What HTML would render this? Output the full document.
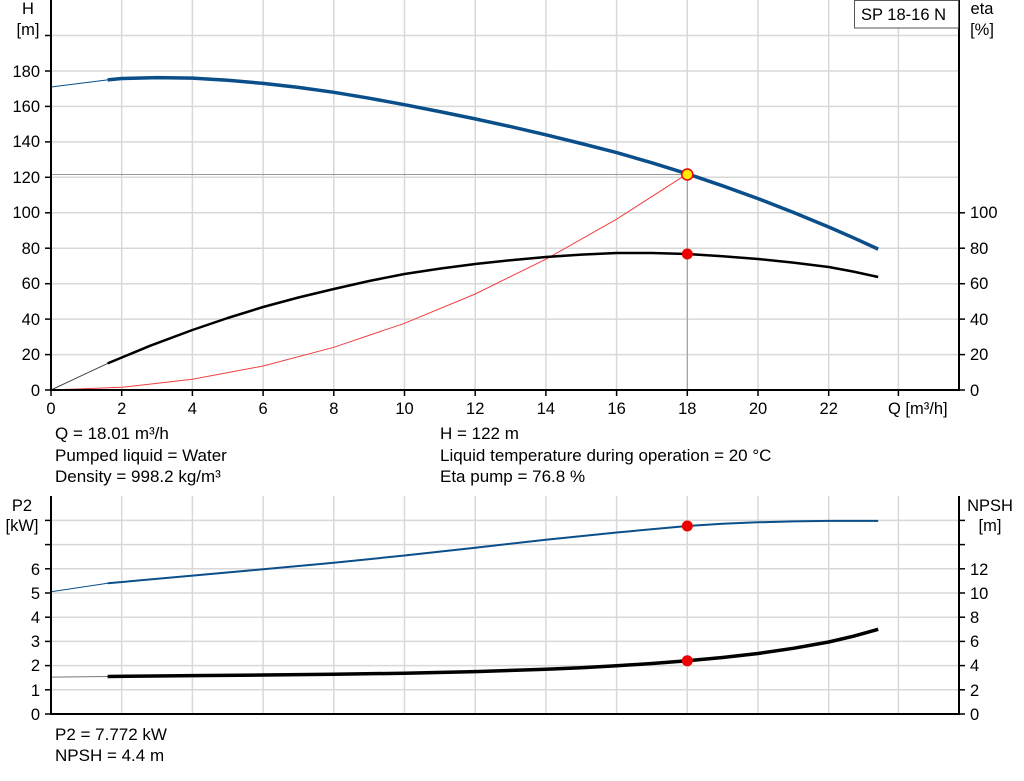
<!DOCTYPE html>
<html><head><style>body{margin:0;background:#fff}svg{display:block;font-family:"Liberation Sans",Arial,sans-serif}</style></head><body>
<svg width="1024" height="781" viewBox="0 0 1024 781" xmlns="http://www.w3.org/2000/svg">
<g stroke="#d8d8d8" stroke-width="1.5">
<line x1="121.7" y1="0" x2="121.7" y2="390"/><line x1="192.4" y1="0" x2="192.4" y2="390"/><line x1="263.1" y1="0" x2="263.1" y2="390"/><line x1="333.8" y1="0" x2="333.8" y2="390"/><line x1="404.5" y1="0" x2="404.5" y2="390"/><line x1="475.2" y1="0" x2="475.2" y2="390"/><line x1="545.9" y1="0" x2="545.9" y2="390"/><line x1="616.6" y1="0" x2="616.6" y2="390"/><line x1="687.3" y1="0" x2="687.3" y2="390"/><line x1="758" y1="0" x2="758" y2="390"/><line x1="828.7" y1="0" x2="828.7" y2="390"/><line x1="898.4" y1="0" x2="898.4" y2="390"/>
<line x1="51" y1="354.6" x2="959" y2="354.6"/><line x1="51" y1="319.1" x2="959" y2="319.1"/><line x1="51" y1="283.7" x2="959" y2="283.7"/><line x1="51" y1="248.2" x2="959" y2="248.2"/><line x1="51" y1="212.8" x2="959" y2="212.8"/><line x1="51" y1="177.3" x2="959" y2="177.3"/><line x1="51" y1="141.9" x2="959" y2="141.9"/><line x1="51" y1="106.4" x2="959" y2="106.4"/><line x1="51" y1="71" x2="959" y2="71"/><line x1="51" y1="35.5" x2="959" y2="35.5"/>
<line x1="121.7" y1="496" x2="121.7" y2="714"/><line x1="192.4" y1="496" x2="192.4" y2="714"/><line x1="263.1" y1="496" x2="263.1" y2="714"/><line x1="333.8" y1="496" x2="333.8" y2="714"/><line x1="404.5" y1="496" x2="404.5" y2="714"/><line x1="475.2" y1="496" x2="475.2" y2="714"/><line x1="545.9" y1="496" x2="545.9" y2="714"/><line x1="616.6" y1="496" x2="616.6" y2="714"/><line x1="687.3" y1="496" x2="687.3" y2="714"/><line x1="758" y1="496" x2="758" y2="714"/><line x1="828.7" y1="496" x2="828.7" y2="714"/><line x1="898.4" y1="496" x2="898.4" y2="714"/>
<line x1="51" y1="689.8" x2="959" y2="689.8"/><line x1="51" y1="665.6" x2="959" y2="665.6"/><line x1="51" y1="641.4" x2="959" y2="641.4"/><line x1="51" y1="617.2" x2="959" y2="617.2"/><line x1="51" y1="593" x2="959" y2="593"/><line x1="51" y1="568.8" x2="959" y2="568.8"/><line x1="51" y1="544.6" x2="959" y2="544.6"/><line x1="51" y1="520.4" x2="959" y2="520.4"/>
</g>
<polyline points="51,174.5 687.3,174.5 687.3,390" fill="none" stroke="#999" stroke-width="1"/>
<polyline points="51,390 121.7,387.3 192.4,379.3 263.1,366 333.8,347.3 404.5,323.3 475.2,294 545.9,259.2 616.6,219.2 687.3,173.8" fill="none" stroke="#f04040" stroke-width="1"/>
<polyline points="51,87 107.6,79.9" fill="none" stroke="#0b4f8a" stroke-width="1"/>
<polyline points="107.6,79.9 121.7,78.5 157,77.6 192.4,78.1 227.7,80.2 263.1,83.4 298.4,87.4 333.8,92.3 369.1,98.2 404.5,104.7 439.8,111.6 475.2,118.9 510.5,126.6 545.9,134.8 581.2,143.5 616.6,152.6 652,162.8 687.3,173.8 722.6,185.8 758,198.6 793.3,212.4 828.7,227 853.5,237.8 878.2,249.1" fill="none" stroke="#0b4f8a" stroke-width="3.5" stroke-linejoin="round"/>
<polyline points="51,390 107.6,363.4" fill="none" stroke="#444" stroke-width="1"/>
<polyline points="107.6,363.4 150,345.8 192.4,330 227.7,318 263.1,307 298.4,297.5 333.8,289 369.1,281 404.5,274 439.8,268.6 475.2,264 510.5,260.2 545.9,257 581.2,254.6 616.6,253 652,253 687.3,254 722.6,256.2 758,259 793.3,262.6 828.7,267 853.5,271.6 878.2,277" fill="none" stroke="#000" stroke-width="2.5" stroke-linejoin="round"/>
<circle cx="687.3" cy="174.5" r="5.5" fill="#ffee00" stroke="#e00" stroke-width="1.5"/>
<circle cx="687.3" cy="254" r="5.5" fill="#e00"/>
<polyline points="51,591.8 107.6,583.3" fill="none" stroke="#0b4f8a" stroke-width="1"/>
<polyline points="107.6,583.3 192.4,575.6 263.1,569.3 333.8,562.8 404.5,555.5 475.2,547.7 545.9,539.8 616.6,532.5 687.3,526 722.6,523.8 758,522.3 793.3,521.4 828.7,520.9 878.2,520.9" fill="none" stroke="#0b4f8a" stroke-width="2" stroke-linejoin="round"/>
<polyline points="51,677.1 107.6,676.5" fill="none" stroke="#777" stroke-width="1"/>
<polyline points="107.6,676.5 192.4,675.6 263.1,675 333.8,674.3 404.5,673.2 475.2,671.6 545.9,669.2 581.2,667.7 616.6,665.8 652,663.5 687.3,660.8 722.6,657.5 758,653.5 793.3,648.3 828.7,642 853.5,636.2 878.2,629.3" fill="none" stroke="#000" stroke-width="3.5" stroke-linejoin="round"/>
<circle cx="687.3" cy="526" r="5.5" fill="#e00"/>
<circle cx="687.3" cy="660.8" r="5.5" fill="#e00"/>
<g stroke="#000" stroke-width="2" fill="none">
<polyline points="51,0 51,390 959,390 959,0"/>
<polyline points="51,496 51,714 959,714 959,496"/>
</g>
<g stroke="#000" stroke-width="1.5">
<line x1="45" y1="390" x2="51" y2="390"/><line x1="45" y1="354.6" x2="51" y2="354.6"/><line x1="45" y1="319.1" x2="51" y2="319.1"/><line x1="45" y1="283.7" x2="51" y2="283.7"/><line x1="45" y1="248.2" x2="51" y2="248.2"/><line x1="45" y1="212.8" x2="51" y2="212.8"/><line x1="45" y1="177.3" x2="51" y2="177.3"/><line x1="45" y1="141.9" x2="51" y2="141.9"/><line x1="45" y1="106.4" x2="51" y2="106.4"/><line x1="45" y1="71" x2="51" y2="71"/><line x1="45" y1="35.5" x2="51" y2="35.5"/>
<line x1="959" y1="390" x2="965" y2="390"/><line x1="959" y1="354.6" x2="965" y2="354.6"/><line x1="959" y1="319.1" x2="965" y2="319.1"/><line x1="959" y1="283.7" x2="965" y2="283.7"/><line x1="959" y1="248.2" x2="965" y2="248.2"/><line x1="959" y1="212.8" x2="965" y2="212.8"/>
<line x1="51" y1="390" x2="51" y2="396"/><line x1="121.7" y1="390" x2="121.7" y2="396"/><line x1="192.4" y1="390" x2="192.4" y2="396"/><line x1="263.1" y1="390" x2="263.1" y2="396"/><line x1="333.8" y1="390" x2="333.8" y2="396"/><line x1="404.5" y1="390" x2="404.5" y2="396"/><line x1="475.2" y1="390" x2="475.2" y2="396"/><line x1="545.9" y1="390" x2="545.9" y2="396"/><line x1="616.6" y1="390" x2="616.6" y2="396"/><line x1="687.3" y1="390" x2="687.3" y2="396"/><line x1="758" y1="390" x2="758" y2="396"/><line x1="828.7" y1="390" x2="828.7" y2="396"/><line x1="898.4" y1="390" x2="898.4" y2="396"/>
<line x1="45" y1="714" x2="51" y2="714"/><line x1="45" y1="689.8" x2="51" y2="689.8"/><line x1="45" y1="665.6" x2="51" y2="665.6"/><line x1="45" y1="641.4" x2="51" y2="641.4"/><line x1="45" y1="617.2" x2="51" y2="617.2"/><line x1="45" y1="593" x2="51" y2="593"/><line x1="45" y1="568.8" x2="51" y2="568.8"/><line x1="45" y1="544.6" x2="51" y2="544.6"/><line x1="45" y1="520.4" x2="51" y2="520.4"/>
<line x1="959" y1="714" x2="965" y2="714"/><line x1="959" y1="689.8" x2="965" y2="689.8"/><line x1="959" y1="665.6" x2="965" y2="665.6"/><line x1="959" y1="641.4" x2="965" y2="641.4"/><line x1="959" y1="617.2" x2="965" y2="617.2"/><line x1="959" y1="593" x2="965" y2="593"/><line x1="959" y1="568.8" x2="965" y2="568.8"/><line x1="959" y1="544.6" x2="965" y2="544.6"/><line x1="959" y1="520.4" x2="965" y2="520.4"/>
</g>
<rect x="854.5" y="0.5" width="104" height="27.5" fill="#fff" stroke="#555" stroke-width="1"/>
<g font-size="16.5" fill="#000">
<text x="861" y="20">SP 18-16 N</text>
<text x="28" y="14" text-anchor="middle">H</text><text x="28" y="35" text-anchor="middle">[m]</text>
<text x="982" y="14" text-anchor="middle">eta</text><text x="982" y="35" text-anchor="middle">[%]</text>
<g text-anchor="end">
<text x="40" y="396">0</text><text x="40" y="360">20</text><text x="40" y="325">40</text><text x="40" y="289">60</text><text x="40" y="254">80</text><text x="40" y="218">100</text><text x="40" y="183">120</text><text x="40" y="147">140</text><text x="40" y="112">160</text><text x="40" y="77">180</text>
<text x="40" y="720">0</text><text x="40" y="696">1</text><text x="40" y="671">2</text><text x="40" y="647">3</text><text x="40" y="623">4</text><text x="40" y="599">5</text><text x="40" y="575">6</text>
</g>
<text x="970" y="396">0</text><text x="970" y="360">20</text><text x="970" y="325">40</text><text x="970" y="289">60</text><text x="970" y="254">80</text><text x="970" y="218">100</text>
<text x="970" y="720">0</text><text x="970" y="696">2</text><text x="970" y="671">4</text><text x="970" y="647">6</text><text x="970" y="623">8</text><text x="970" y="599">10</text><text x="970" y="575">12</text>
<g text-anchor="middle">
<text x="51" y="414">0</text><text x="121.7" y="414">2</text><text x="192.4" y="414">4</text><text x="263.1" y="414">6</text><text x="333.8" y="414">8</text><text x="404.5" y="414">10</text><text x="475.2" y="414">12</text><text x="545.9" y="414">14</text><text x="616.6" y="414">16</text><text x="687.3" y="414">18</text><text x="758" y="414">20</text><text x="828.7" y="414">22</text>
<text x="22" y="511">P2</text><text x="22" y="531">[kW]</text>
<text x="990" y="511">NPSH</text><text x="990" y="531">[m]</text>
</g>
<text x="888" y="414">Q [m³/h]</text>
</g>
<g font-size="17" fill="#000">
<text x="55" y="439">Q = 18.01 m³/h</text>
<text x="55" y="461">Pumped liquid = Water</text>
<text x="55" y="482">Density = 998.2 kg/m³</text>
<text x="440" y="439">H = 122 m</text>
<text x="440" y="461">Liquid temperature during operation = 20 °C</text>
<text x="440" y="482">Eta pump = 76.8 %</text>
<text x="55" y="740">P2 = 7.772 kW</text>
<text x="55" y="761">NPSH = 4.4 m</text>
</g>
</svg>
</body></html>
